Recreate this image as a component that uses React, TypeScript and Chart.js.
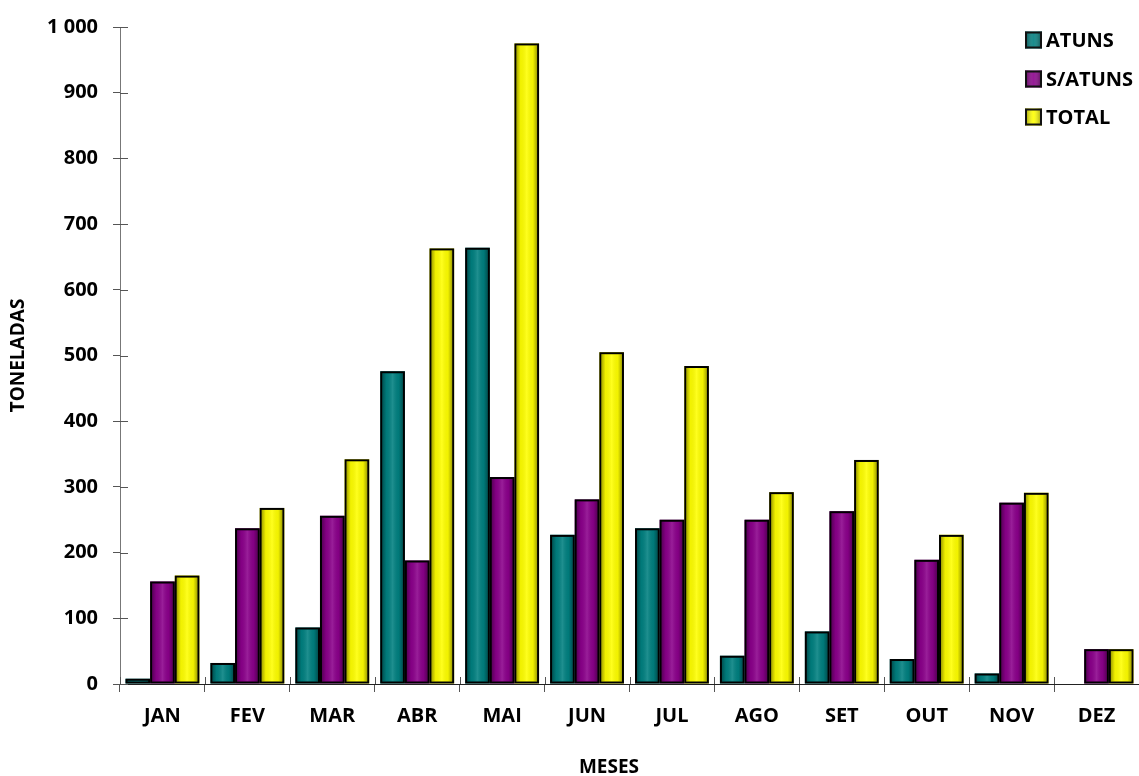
import React, { useEffect, useRef } from "react";
import { Chart, registerables } from "chart.js";

Chart.register(...registerables);

const months = ["JAN", "FEV", "MAR", "ABR", "MAI", "JUN", "JUL", "AGO", "SET", "OUT", "NOV", "DEZ"];
const atuns = [8, 32, 86, 476, 664, 227, 237, 43, 80, 38, 16, 0];
const semAtuns = [156, 237, 256, 188, 315, 281, 250, 250, 263, 189, 276, 53];
const total = [165, 268, 342, 663, 975, 505, 484, 292, 341, 227, 291, 53];
const seriesNames = ["ATUNS", "S/ATUNS", "TOTAL"];
const seriesColors = ["#008080", "#8B008B", "#FFFF00"];
const yTicks = [0, 100, 200, 300, 400, 500, 600, 700, 800, 900, 1000];
const xTitle = "MESES";
const yTitle = "TONELADAS";

const FONT = "'Open Sans', Lato, sans-serif";

const shadePlugin = {
  id: "shade",
  afterDatasetsDraw(chart: any) {
    const ctx = chart.ctx;
    chart.data.datasets.forEach((_: any, di: number) => {
      const meta = chart.getDatasetMeta(di);
      meta.data.forEach((bar: any) => {
        const { x, y, base, width } = bar.getProps(["x", "y", "base", "width"], true);
        const h = base - y;
        if (h <= 0.5) return;
        const l = x - width / 2;
        const g = ctx.createLinearGradient(l, 0, l + width, 0);
        g.addColorStop(0, "rgba(0,0,0,0.5)");
        g.addColorStop(0.25, "rgba(0,0,0,0.05)");
        g.addColorStop(0.5, "rgba(255,255,255,0.12)");
        g.addColorStop(0.75, "rgba(0,0,0,0.05)");
        g.addColorStop(1, "rgba(0,0,0,0.5)");
        ctx.save();
        ctx.fillStyle = g;
        ctx.fillRect(l + 2, y + 2, width - 4, h - 4);
        ctx.strokeStyle = "#000";
        ctx.lineWidth = 2;
        ctx.strokeRect(l + 1, y + 1, width - 2, h - 2);
        ctx.restore();
      });
    });
  },
  afterDraw(chart: any) {
    const ctx = chart.ctx;
    const area = chart.chartArea;
    ctx.save();
    ctx.strokeStyle = "#555";
    ctx.lineWidth = 1;
    const ys = chart.scales.y;
    yTicks.forEach((v) => {
      const py = Math.round(ys.getPixelForValue(v)) + 0.5;
      ctx.beginPath();
      ctx.moveTo(area.left, py);
      ctx.lineTo(area.left + 8, py);
      ctx.stroke();
    });
    const w = (area.right - area.left) / months.length;
    for (let i = 0; i <= months.length; i++) {
      const px = Math.round(area.left + i * w) + 0.5;
      ctx.beginPath();
      ctx.moveTo(px, area.bottom);
      ctx.lineTo(px, area.bottom - 7);
      ctx.stroke();
    }
    // x axis title
    ctx.font = `bold 19px ${FONT}`;
    ctx.fillStyle = "#000";
    ctx.textAlign = "center";
    ctx.textBaseline = "middle";
    ctx.fillText(xTitle, 609, 768);
    // legend
    const ly = [40, 79, 117];
    ctx.font = `bold 20px ${FONT}`;
    ctx.textBaseline = "middle";
    ctx.textAlign = "left";
    seriesNames.forEach((name, i) => {
      const bx = 1025;
      const by = ly[i] - 8.5;
      ctx.fillStyle = seriesColors[i];
      ctx.fillRect(bx, by, 17, 17);
      const g = ctx.createLinearGradient(bx, 0, bx + 17, 0);
      g.addColorStop(0, "rgba(0,0,0,0.45)");
      g.addColorStop(0.5, "rgba(255,255,255,0.1)");
      g.addColorStop(1, "rgba(0,0,0,0.45)");
      ctx.fillStyle = g;
      ctx.fillRect(bx, by, 17, 17);
      ctx.strokeStyle = "#111";
      ctx.lineWidth = 2;
      ctx.strokeRect(bx + 1, by + 1, 15, 15);
      ctx.fillStyle = "#000";
      ctx.fillText(name, 1046, ly[i] + 1);
    });
    ctx.restore();
  },
};

export default function App() {
  const ref = useRef<HTMLCanvasElement | null>(null);
  useEffect(() => {
    if (!ref.current) return;
    const chart = new Chart(ref.current, {
      type: "bar",
      data: {
        labels: months,
        datasets: [
          { label: seriesNames[0], data: atuns, backgroundColor: seriesColors[0] },
          { label: seriesNames[1], data: semAtuns, backgroundColor: seriesColors[1] },
          { label: seriesNames[2], data: total, backgroundColor: seriesColors[2] },
        ],
      },
      options: {
        animation: false,
        responsive: true,
        maintainAspectRatio: false,
        layout: { padding: { top: 27, right: 0, left: 0, bottom: 0 } },
        datasets: { bar: { categoryPercentage: 0.87, barPercentage: 1, borderWidth: 0 } },
        plugins: { legend: { display: false }, tooltip: { enabled: false } },
        scales: {
          x: {
            grid: { display: true, drawOnChartArea: false, tickLength: 8, color: "#555", offset: true },
            border: { display: true, color: "#222", width: 1 },
            ticks: { color: "#000", font: { family: FONT, size: 20, weight: "bold" }, padding: 12, maxRotation: 0 },
            title: { display: false },
            afterFit(scale: any) {
              scale.height = 92;
            },
          },
          y: {
            min: 0,
            max: 1000,
            afterBuildTicks(scale: any) {
              scale.ticks = yTicks.map((v) => ({ value: v }));
            },
            grid: { display: true, drawOnChartArea: false, tickLength: 7, color: "#555" },
            border: { display: true, color: "#777", width: 1 },
            ticks: {
              color: "#000",
              font: { family: FONT, size: 20, weight: "bold" },
              padding: 15,
              callback: (v: any) => (Number(v) === 1000 ? "1 000" : String(v)),
            },
            title: {
              display: true,
              text: yTitle,
              color: "#000",
              font: { family: FONT, size: 19, weight: "bold" },
              padding: { top: 7, bottom: 0 },
            },
            afterFit(scale: any) {
              scale.width = 120;
            },
          },
        },
      },
      plugins: [shadePlugin],
    } as any);
    return () => chart.destroy();
  }, []);
  return (
    <div style={{ position: "absolute", left: 0, top: 0, width: 1139, height: 776, background: "#fff" }}>
      <canvas ref={ref} />
    </div>
  );
}
